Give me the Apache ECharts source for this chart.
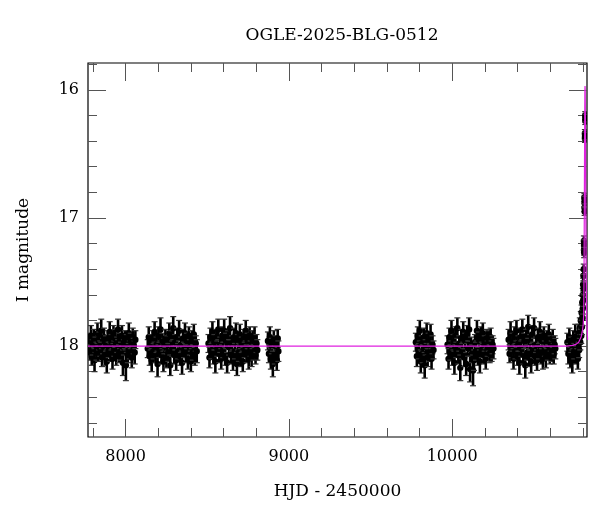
<!DOCTYPE html>
<html>
<head>
<meta charset="utf-8">
<script src="https://cdn.jsdelivr.net/npm/echarts@6/dist/echarts.min.js"></script>
<style>
html,body{margin:0;padding:0;background:#fff;}
#chart{width:600px;height:512px;}
</style>
</head>
<body>
<div id="chart"></div>
<script>
// ---- data: [HJD-2450000, I mag, error] ----
const season1 = [
[7776,17.97,0.07],[7782,18.05,0.06],[7788,17.92,0.08],[7793,18.08,0.07],[7799,18.01,0.06],
[7805,17.94,0.07],[7810,18.11,0.09],[7816,17.99,0.06],[7822,18.04,0.07],[7828,17.90,0.08],
[7833,18.06,0.06],[7839,17.96,0.07],[7845,18.02,0.06],[7851,17.88,0.09],[7856,18.09,0.07],
[7862,18.00,0.06],[7868,17.93,0.07],[7874,18.07,0.08],[7880,17.98,0.06],[7885,18.12,0.09],
[7891,17.95,0.07],[7897,18.03,0.06],[7903,17.89,0.08],[7908,18.05,0.07],[7914,17.97,0.06],
[7920,18.10,0.08],[7926,17.91,0.07],[7931,18.02,0.06],[7937,17.94,0.07],[7943,18.08,0.07],
[7949,17.99,0.06],[7954,17.87,0.08],[7960,18.06,0.07],[7966,17.96,0.06],[7972,18.04,0.07],
[7978,17.92,0.08],[7984,18.13,0.10],[7990,18.01,0.06],[7996,17.95,0.07],[8002,18.15,0.12],
[8008,17.98,0.07],[8014,18.07,0.06],[8020,17.90,0.08],[8026,18.03,0.07],[8032,17.96,0.06],
[8038,18.09,0.08],[8044,17.93,0.07],[8050,18.00,0.06],[8056,18.05,0.09],[8060,17.95,0.07]
];
const season2 = [
[8136,18.02,0.07],[8142,17.93,0.08],[8148,18.08,0.07],[8154,17.97,0.06],[8160,18.11,0.09],
[8166,17.95,0.07],[8172,18.04,0.06],[8178,17.89,0.08],[8184,18.06,0.07],[8190,17.99,0.06],
[8196,18.14,0.10],[8202,17.92,0.07],[8208,18.03,0.06],[8214,17.87,0.09],[8220,18.07,0.07],
[8226,17.96,0.06],[8232,18.12,0.08],[8238,18.00,0.06],[8244,17.94,0.07],[8250,18.09,0.08],
[8256,17.98,0.06],[8262,18.05,0.07],[8268,17.90,0.08],[8274,18.15,0.08],[8280,17.95,0.07],
[8286,18.02,0.06],[8292,17.86,0.09],[8298,18.07,0.07],[8304,17.97,0.06],[8310,18.11,0.08],
[8316,17.93,0.07],[8322,18.04,0.06],[8328,17.88,0.08],[8334,18.08,0.07],[8340,17.99,0.06],
[8346,18.13,0.09],[8352,17.94,0.07],[8358,18.03,0.06],[8364,17.90,0.08],[8370,18.06,0.07],
[8376,17.96,0.06],[8382,18.10,0.08],[8388,17.92,0.07],[8394,18.01,0.06],[8400,18.12,0.08],
[8406,17.95,0.07],[8412,18.05,0.06],[8418,17.91,0.08],[8424,18.08,0.07],[8430,17.98,0.06],
[8436,18.04,0.09]
];
const season3 = [
[8508,17.98,0.07],[8514,18.09,0.08],[8520,17.93,0.07],[8526,18.04,0.06],[8532,17.89,0.08],
[8538,18.07,0.07],[8544,17.97,0.06],[8550,18.12,0.09],[8556,17.94,0.07],[8562,18.02,0.06],
[8568,17.87,0.08],[8574,18.06,0.07],[8580,17.99,0.06],[8586,18.10,0.08],[8592,17.92,0.07],
[8598,18.03,0.06],[8604,17.88,0.09],[8610,18.08,0.07],[8616,17.96,0.06],[8622,18.13,0.08],
[8628,17.95,0.07],[8634,18.01,0.06],[8640,17.86,0.09],[8646,18.07,0.07],[8652,17.98,0.06],
[8658,18.11,0.08],[8664,17.93,0.07],[8670,18.04,0.06],[8676,17.90,0.08],[8682,18.14,0.09],
[8688,17.97,0.06],[8694,18.05,0.07],[8700,17.91,0.08],[8706,18.09,0.07],[8712,17.99,0.06],
[8718,18.12,0.08],[8724,17.94,0.07],[8730,18.03,0.06],[8736,17.88,0.08],[8742,18.06,0.07],
[8748,17.96,0.06],[8754,18.10,0.08],[8760,17.92,0.07],[8766,18.02,0.06],[8772,18.08,0.08],
[8778,17.95,0.07],[8784,18.05,0.06],[8790,17.93,0.08],[8796,18.07,0.07],[8802,17.98,0.07],
[8807,18.03,0.08]
];
const season4 = [
[8872,17.96,0.07],[8878,18.06,0.07],[8884,17.93,0.08],[8890,18.10,0.08],[8896,18.00,0.06],
[8902,18.14,0.10],[8908,17.95,0.07],[8914,18.07,0.07],[8920,17.98,0.06],[8926,18.11,0.08],
[8932,17.94,0.07],[8936,18.04,0.08]
];
const season5 = [
[9778,17.97,0.07],[9784,18.08,0.08],[9790,17.92,0.07],[9796,18.04,0.06],[9802,17.88,0.08],
[9808,18.12,0.09],[9814,17.98,0.06],[9820,18.06,0.07],[9826,17.93,0.07],[9832,18.15,0.10],
[9838,18.01,0.06],[9844,17.90,0.08],[9850,18.09,0.07],[9856,17.96,0.06],[9862,18.05,0.07],
[9868,17.91,0.08],[9874,18.10,0.08],[9880,17.99,0.07],[9886,18.03,0.07]
];
const season6 = [
[9972,17.99,0.07],[9978,18.10,0.08],[9984,17.93,0.07],[9990,18.05,0.06],[9996,17.88,0.08],
[10002,18.08,0.07],[10008,17.97,0.06],[10014,18.13,0.09],[10020,17.92,0.07],[10026,18.03,0.06],
[10032,17.86,0.08],[10038,18.07,0.07],[10044,17.98,0.06],[10050,18.17,0.10],[10056,17.94,0.07],
[10062,18.04,0.06],[10068,17.89,0.08],[10074,18.09,0.07],[10080,17.96,0.06],[10086,18.14,0.09],
[10092,17.91,0.07],[10098,18.02,0.06],[10104,17.87,0.09],[10110,18.18,0.10],[10116,17.99,0.06],
[10122,18.06,0.07],[10128,18.19,0.12],[10134,18.11,0.08],[10140,17.97,0.06],[10146,18.04,0.07],
[10152,17.88,0.08],[10158,18.08,0.07],[10164,17.95,0.06],[10170,18.12,0.09],[10176,17.92,0.07],
[10182,18.03,0.06],[10188,17.90,0.08],[10194,18.07,0.07],[10200,17.98,0.06],[10206,18.10,0.08],
[10212,17.94,0.07],[10218,18.02,0.06],[10224,17.96,0.08],[10230,18.06,0.07],[10236,17.93,0.07],
[10242,18.04,0.08],[10248,17.99,0.07],[10253,18.02,0.08]
];
const season7 = [
[10346,17.95,0.08],[10352,18.06,0.07],[10358,17.90,0.09],[10364,18.03,0.06],[10370,17.97,0.07],
[10376,18.10,0.08],[10382,17.92,0.07],[10388,18.04,0.06],[10394,17.88,0.08],[10400,18.08,0.07],
[10406,17.98,0.06],[10412,18.13,0.09],[10418,17.93,0.07],[10424,18.02,0.06],[10430,17.87,0.08],
[10436,18.07,0.07],[10442,17.96,0.06],[10448,18.15,0.10],[10454,17.94,0.07],[10460,18.05,0.06],
[10466,17.85,0.09],[10472,18.09,0.07],[10478,17.97,0.06],[10484,18.12,0.09],[10490,17.91,0.07],
[10496,18.03,0.06],[10502,17.86,0.08],[10508,18.08,0.07],[10514,17.99,0.06],[10520,18.11,0.08],
[10526,17.93,0.07],[10532,18.04,0.06],[10538,17.89,0.08],[10544,18.07,0.07],[10550,17.96,0.06],
[10556,18.10,0.08],[10562,17.92,0.07],[10568,18.02,0.06],[10574,18.09,0.08],[10580,17.95,0.07],
[10586,18.05,0.06],[10592,17.91,0.08],[10598,18.07,0.07],[10604,17.98,0.06],[10610,18.04,0.08],
[10616,17.94,0.07],[10622,18.06,0.08],[10628,17.99,0.07],[10632,18.02,0.08]
];
const season8 = [
[10706,17.97,0.07],[10712,18.06,0.08],[10718,17.93,0.07],[10724,18.09,0.08],[10730,17.99,0.06],
[10736,18.12,0.09],[10742,17.95,0.07],[10748,18.04,0.06],[10754,17.91,0.08],[10760,18.07,0.07],
[10766,17.96,0.06],[10770,18.10,0.08],[10774,17.90,0.07],[10778,18.03,0.06],[10782,17.86,0.08],
[10785,17.97,0.06],[10788,17.80,0.07],[10791,17.92,0.06],[10793,17.74,0.06],[10795,17.85,0.06],
[10797,17.66,0.05],[10799,17.78,0.06],[10800,17.60,0.05],[10801,17.70,0.05],[10802,17.52,0.05],
[10803,17.64,0.05],[10804,17.45,0.04],[10805,17.55,0.05],[10806,17.40,0.04]
];
const peak = [
[10807,17.18,0.04],[10807.5,17.25,0.04],[10808,17.21,0.04],[10808.5,17.27,0.04],
[10810,16.84,0.03],[10810.5,16.92,0.03],[10811,16.88,0.03],[10811.5,16.95,0.03],[10812,16.86,0.03],
[10813,16.34,0.03],[10813.5,16.38,0.03],[10814,16.36,0.03],
[10815,16.20,0.03],[10815.5,16.24,0.03],[10816,16.22,0.03]
];
// model light curve
const modelT   = [7770, 8500, 9500, 10500, 10700, 10740, 10760, 10775, 10790, 10798, 10803, 10806, 10808, 10810, 10812, 10813, 10814, 10815, 10817, 10819, 10821, 10824, 10830];
const modelMag = [18.0, 18.0, 18.0, 18.0, 18.0, 17.995, 17.985, 17.97, 17.93, 17.88, 17.83, 17.75, 17.4, 16.8, 16.2, 16.0, 15.97, 16.0, 16.4, 17.0, 17.45, 17.8, 17.95];
// ticks
const xMajor = [8000, 9000, 10000];
const xMinor = [7800, 8200, 8400, 8600, 8800, 9200, 9400, 9600, 9800, 10200, 10400, 10600, 10800];
const yMajor = [16, 17, 18];
const yMinor = [15.8, 16.2, 16.4, 16.6, 16.8, 17.2, 17.4, 17.6, 17.8, 18.2, 18.4, 18.6];

const allObs = [].concat(season1, season2, season3, season4, season5, season6, season7, season8, peak);
const XMIN = 7770, XMAX = 10826, YMIN = 15.79, YMAX = 18.71;
const FONT = 'DejaVu Serif';
const tickColor = '#555';
const plain = v => String(v);

function xAx(pos, values, len, labels, extra) {
  return Object.assign({
    type: 'value', position: pos, min: XMIN, max: XMAX,
    axisLine: { show: false },
    splitLine: { show: false },
    axisTick: { show: true, inside: true, length: len, customValues: values, lineStyle: { color: tickColor, width: 1 } },
    axisLabel: labels ? { show: true, customValues: values, formatter: plain, margin: 12, color: '#000', fontFamily: FONT, fontSize: 16 } : { show: false }
  }, extra || {});
}
function yAx(pos, values, len, labels, extra) {
  return Object.assign({
    type: 'value', position: pos, min: YMIN, max: YMAX, inverse: true,
    axisLine: { show: false },
    splitLine: { show: false },
    axisTick: { show: true, inside: true, length: len, customValues: values, lineStyle: { color: tickColor, width: 1 } },
    axisLabel: labels ? { show: true, customValues: values, formatter: plain, margin: 9, color: '#000', fontFamily: FONT, fontSize: 16 } : { show: false }
  }, extra || {});
}

const chart = echarts.init(document.getElementById('chart'), null, { renderer: 'canvas' });
chart.setOption({
  animation: false,
  backgroundColor: '#fff',
  title: {
    text: 'OGLE-2025-BLG-0512', left: 337, top: 22, textAlign: 'center',
    textStyle: { fontFamily: FONT, fontSize: 17, fontWeight: 'normal', color: '#000' }
  },
  grid: { left: 88, right: 13, top: 63, bottom: 75, show: true, borderColor: '#000', borderWidth: 1.2, backgroundColor: 'transparent' },
  xAxis: [
    xAx('bottom', xMajor, 18, true, { name: 'HJD - 2450000', nameLocation: 'middle', nameGap: 46,
      nameTextStyle: { fontFamily: FONT, fontSize: 17, color: '#000' } }),
    xAx('bottom', xMinor, 9, false),
    xAx('top', xMajor, 18, false),
    xAx('top', xMinor, 9, false)
  ],
  yAxis: [
    yAx('left', yMajor, 18, true, { name: 'I magnitude', nameLocation: 'middle', nameGap: 56, nameRotate: 90,
      nameTextStyle: { fontFamily: FONT, fontSize: 17, color: '#000' } }),
    yAx('left', yMinor, 9, false),
    yAx('right', yMajor, 18, false),
    yAx('right', yMinor, 9, false)
  ],
  series: [
    {
      type: 'custom', xAxisIndex: 0, yAxisIndex: 0, clip: true,
      data: allObs,
      encode: { x: 0, y: 1 },
      renderItem: function (params, api) {
        const t = api.value(0), m = api.value(1), e = api.value(2);
        const c = api.coord([t, m]);
        const a = api.coord([t, m - e]);
        const b = api.coord([t, m + e]);
        const hw = 3;
        return {
          type: 'group',
          children: [
            { type: 'line', shape: { x1: a[0], y1: a[1], x2: b[0], y2: b[1] }, style: { stroke: '#000', lineWidth: 2.6 } },
            { type: 'line', shape: { x1: a[0] - hw, y1: a[1], x2: a[0] + hw, y2: a[1] }, style: { stroke: '#333', lineWidth: 1.2 } },
            { type: 'line', shape: { x1: b[0] - hw, y1: b[1], x2: b[0] + hw, y2: b[1] }, style: { stroke: '#333', lineWidth: 1.2 } },
            { type: 'circle', shape: { cx: c[0], cy: c[1], r: 3.2 }, style: { fill: '#000' } }
          ]
        };
      }
    },
    {
      type: 'line', xAxisIndex: 0, yAxisIndex: 0,
      data: modelT.map((t, i) => [t, modelMag[i]]),
      showSymbol: false, symbol: 'none', clip: true, z: 5,
      lineStyle: { color: '#e020e0', width: 1.2 }
    }
  ]
});
</script>
</body>
</html>
